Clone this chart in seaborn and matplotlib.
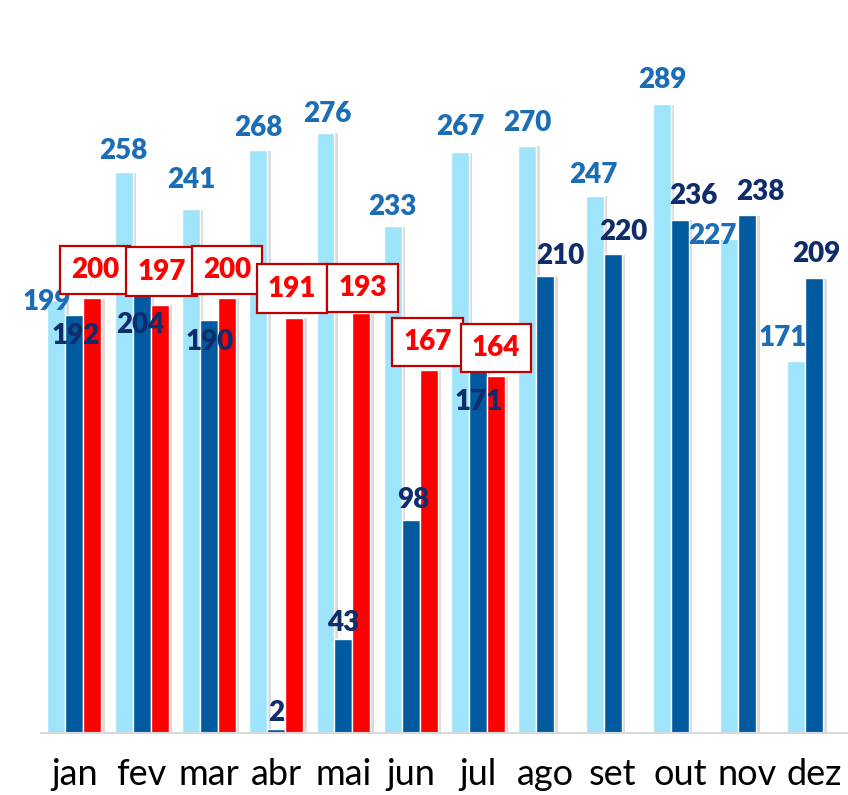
import seaborn as sns
import matplotlib.pyplot as plt
import matplotlib.patheffects as pe
import numpy as np
import pandas as pd

months = ['jan', 'fev', 'mar', 'abr', 'mai', 'jun', 'jul', 'ago', 'set', 'out', 'nov', 'dez']
serie_a = [199, 258, 241, 268, 276, 233, 267, 270, 247, 289, 227, 171]
serie_b = [192, 204, 190, 2, 43, 98, 171, 210, 220, 236, 238, 209]
serie_c = [200, 197, 200, 191, 193, 167, 164]

# label offsets in pixels (dx, dy) relative to the bar top
off_a = [(-10, -2), (0, 21), (0, 29), (0, 22), (2, 19), (0, 19), (0, 25),
         (0, 23), (-1, 21), (0, 24), (-17, 3), (-14, 23)]
off_b = [(1, -21), (-1, -36), (1, -22), (0, 16), (0, 16), (3, 20), (1, -41),
         (15, 20), (11, 22), (14, 24), (13, 23), (2, 24)]
off_c = [(3, 28), (2, 33), (0, 28), (-2, 29), (1, 25), (-1, 28), (0, 28)]

col_a, col_b, col_c = '#9ee4fb', '#005aa0', '#ff0000'
txt_a, txt_b = '#1b6db5', '#0f2c6b'

vals_c = serie_c + [np.nan] * (len(months) - len(serie_c))
df = pd.DataFrame({
    'mes': months * 3,
    'serie': ['a'] * 12 + ['b'] * 12 + ['c'] * 12,
    'valor': serie_a + serie_b + vals_c,
})

sns.set_style('white')
plt.rcParams['font.family'] = ['Lato', 'DejaVu Sans']

fig = plt.figure(figsize=(8.48, 7.95), dpi=100)
ax = fig.add_axes([40.7 / 848, 62 / 795, 807.3 / 848, 733 / 795])

sns.barplot(data=df, x='mes', y='valor', hue='serie', hue_order=['a', 'b', 'c'],
            palette=[col_a, col_b, col_c], width=0.8, saturation=1, legend=False, ax=ax)

shadow = [pe.SimplePatchShadow(offset=(2.5, -0.5), shadow_rgbFace='#999999', alpha=0.35), pe.Normal()]
for p in ax.patches:
    p.set_path_effects(shadow)

ax.set_xlim(-0.5, 11.416)
ax.set_ylim(0, 337)

bw = 0.8 / 3
lbl = dict(ha='center', va='center', fontsize=20, fontweight='heavy', textcoords='offset pixels')
for i, v in enumerate(serie_a):
    ax.annotate(str(v), (i - bw, v), xytext=off_a[i], color=txt_a, **lbl)
for i, v in enumerate(serie_b):
    ax.annotate(str(v), (i, v), xytext=off_b[i], color=txt_b, **lbl)
for i, v in enumerate(serie_c):
    ax.annotate(str(v), (i + bw, v), xytext=off_c[i], color=col_c,
                bbox=dict(boxstyle='square,pad=0.4', fc='white', ec='#c00000', lw=1.6), **lbl)

for s in ['top', 'left', 'right']:
    ax.spines[s].set_visible(False)
ax.spines['bottom'].set_color('#d9d9d9')
ax.spines['bottom'].set_linewidth(1.5)

ax.set_yticks([])
ax.set_xticks(np.arange(-0.5, 12, 1), minor=True)
ax.tick_params(axis='x', which='minor', length=10, width=1.5, color='#d9d9d9', direction='out')
ax.tick_params(axis='x', which='major', length=0, pad=18, labelsize=26, labelcolor='black')
ax.set_xlabel('')
ax.set_ylabel('')

fig.savefig('out.png', dpi=100)
